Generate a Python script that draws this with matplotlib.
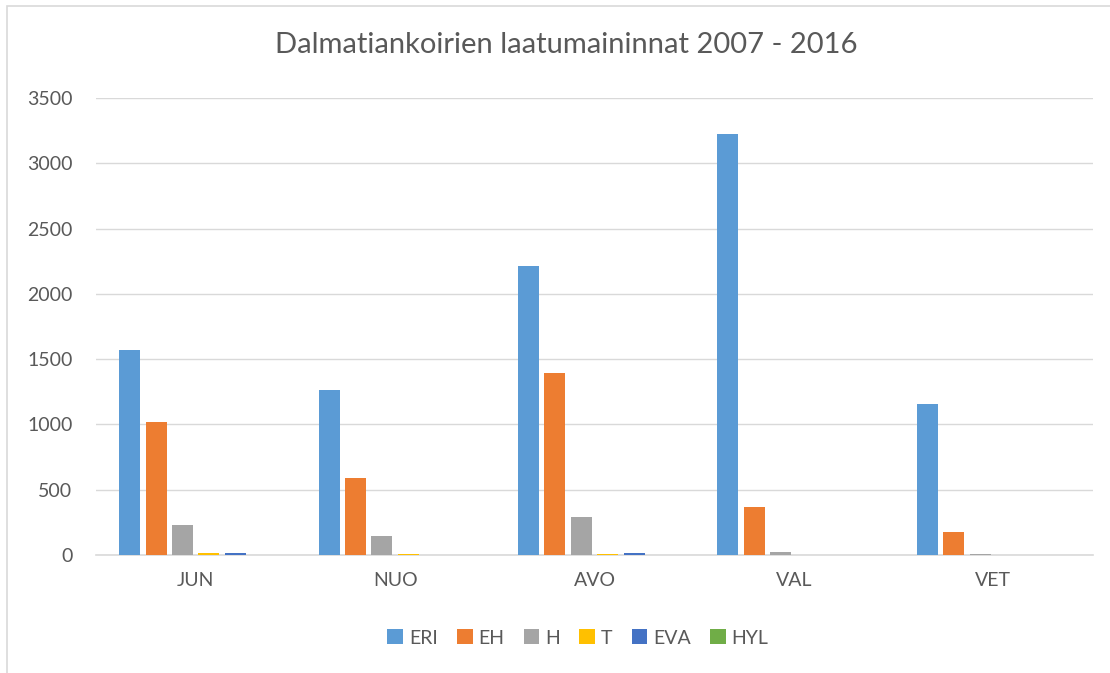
import numpy as np
import matplotlib
matplotlib.use("Agg")
import matplotlib.pyplot as plt
from matplotlib.patches import Rectangle

# ========== 数据 ==========
categories = ["JUN", "NUO", "AVO", "VAL", "VET"]
series_names = ["ERI", "EH", "H", "T", "EVA", "HYL"]
eri = [1570, 1265, 2215, 3225, 1160]
eh = [1020, 590, 1395, 367, 176]
h = [230, 145, 289, 23, 8]
t = [15, 10, 10, 0, 0]
eva = [12, 0, 12, 0, 0]
hyl = [0, 0, 3, 0, 0]
yticks = [0, 500, 1000, 1500, 2000, 2500, 3000, 3500]

colors = ["#5B9BD5", "#ED7D31", "#A5A5A5", "#FFC000", "#4472C4", "#70AD47"]
text_color = "#595959"

plt.rcParams["font.family"] = ["Lato", "DejaVu Sans"]

fig = plt.figure(figsize=(11.1, 6.73), dpi=100)
ax = fig.add_axes([96 / 1110, 1 - 555 / 673, 997 / 1110, 457 / 673])

x = np.arange(len(categories))
slot = 0.1325
width = 0.105
all_series = [eri, eh, h, t, eva, hyl]
for i, (name, vals) in enumerate(zip(series_names, all_series)):
    offset = (i - 2.5) * slot
    ax.bar(x + offset, vals, width=width, color=colors[i], label=name,
           linewidth=0, zorder=3)

ax.set_xlim(-0.5, len(categories) - 0.5)
ax.set_ylim(0, 3500)
ax.set_yticks(yticks)
ax.set_xticks(x)
ax.set_xticklabels(categories)
ax.grid(axis="y", color="#D9D9D9", linewidth=1, zorder=0)
ax.tick_params(axis="both", length=0, labelsize=14, colors=text_color)
ax.tick_params(axis="y", pad=17)
ax.tick_params(axis="x", pad=12)
for side in ["top", "right", "left"]:
    ax.spines[side].set_visible(False)
ax.spines["bottom"].set_color("#D9D9D9")
ax.spines["bottom"].set_linewidth(1.2)

fig.text(566 / 1110, 1 - 45 / 673, "Dalmatiankoirien laatumaininnat 2007 - 2016",
         ha="center", va="center", fontsize=21, color=text_color)

fig.legend(loc="center", bbox_to_anchor=(578 / 1110, 1 - 638 / 673), ncol=6,
           frameon=False, fontsize=14, handlelength=0.8, handleheight=0.8,
           handletextpad=0.3, columnspacing=1.0, labelcolor=text_color)

# 图表外框
fig.patches.append(Rectangle((7 / 1110, -0.1), 1.2, 1 - 6 / 673 + 0.1,
                             transform=fig.transFigure, fill=False,
                             edgecolor="#D9D9D9", linewidth=1.2))

fig.savefig("out.png", dpi=100)
